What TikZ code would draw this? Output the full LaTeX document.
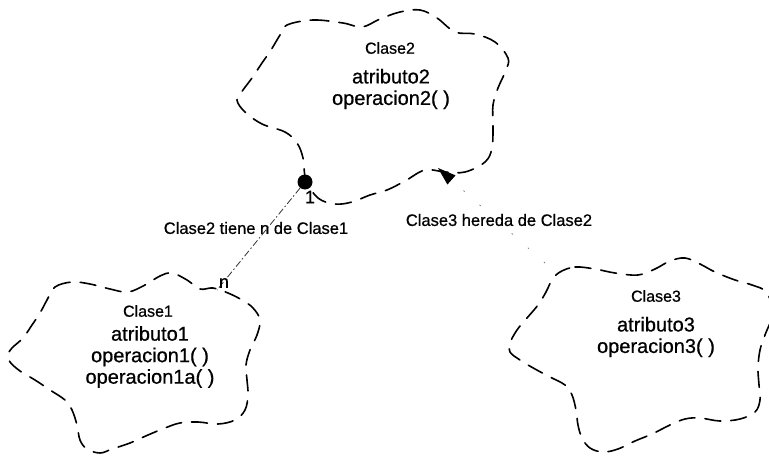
\documentclass[tikz,border=0pt]{standalone}
\usepackage{fontspec}
\setmainfont{Liberation Sans}[FakeBold=0.7]
\usetikzlibrary{arrows.meta,positioning}

\begin{document}
\begin{tikzpicture}[x=1pt, y=-1pt,
  cloud/.style={line width=1.6pt, dash pattern=on 16pt off 10pt, line cap=round},
  clsname/.style={font=\fontsize{16}{18}\selectfont, inner sep=0pt},
  clsbody/.style={font=\fontsize{20}{21.5}\selectfont, align=center, inner sep=0pt},
  mult/.style={font=\fontsize{18}{18}\selectfont, inner sep=0pt},
  lbl/.style={font=\fontsize{16.5}{18}\selectfont, inner sep=0pt},
  hasdot/.style={circle, fill, inner sep=0pt, minimum size=15pt},
  has/.style={line width=.8pt, black!80, dash pattern=on 7pt off 2.5pt on 1.5pt off 2.5pt},
  inh/.style={line width=.8pt, gray, dash pattern=on 1.5pt off 20pt,
    -{Triangle[length=18pt,width=12pt,color=black]}}]
\useasboundingbox (0,0) rectangle (769,458);
%% Clase2
\draw[cloud] plot[smooth cycle, tension=.6] coordinates {
  (287,25) (313,20) (343,23) (362,27) (380,19) (400,12) (420,10) (437,18)
  (455,32) (475,34) (495,42) (508,58) (506,70) (498,88) (493,105) (493,125)
  (492,148) (485,162) (465,172) (445,172) (425,170) (405,181) (387,190)
  (370,195) (352,202) (335,204) (318,198) (306,180) (303,158) (297,143)
  (285,132) (262,124) (245,112) (237,100) (243,90) (252,78) (262,63)
  (271,50) (280,35)};
\node[clsname] (c2name) at (390,48) {Clase2};
\node[clsbody] (c2body) at (391,89) {atributo2\\operacion2( )};
%% Clase1
\draw[cloud] plot[smooth cycle, tension=.6] coordinates {
  (47,300) (55,287) (72,282) (90,284) (110,289) (128,292) (145,285)
  (160,276) (172,273) (187,280) (200,289) (213,288) (228,293) (242,300)
  (253,308) (260,320) (257,335) (250,350) (246,365) (247,380) (248,395)
  (245,410) (235,420) (218,424) (198,422) (180,423) (165,428) (148,435)
  (130,443) (112,449) (100,453) (87,449) (80,440) (77,425) (72,410)
  (65,400) (50,390) (35,380) (20,371) (10,362) (8,355) (12,348) (23,338)
  (32,325) (40,313)};
\node[clsname] (c1name) at (148,311) {Clase1};
\node[clsbody] (c1body) at (150,357) {atributo1\\operacion1( )\\operacion1a( )};
%% Clase3
\draw[cloud] plot[smooth cycle, tension=.6] coordinates {
  (560,272) (575,267) (595,269) (615,273) (638,275) (655,269) (670,261)
  (685,258) (700,264) (715,272) (735,280) (752,285) (766,292) (773,312)
  (765,335) (760,350) (758,368) (759,385) (760,400) (755,412) (740,419)
  (720,421) (700,418) (685,419) (670,425) (652,434) (635,441) (618,449)
  (603,452) (590,448) (582,438) (578,425) (576,410) (572,395) (565,385)
  (550,377) (535,369) (520,360) (510,352) (510,343) (517,330) (527,318)
  (538,305) (546,292) (552,280)};
\node[clsname] (c3name) at (656,296) {Clase3};
\node[clsbody] (c3body) at (656,337) {atributo3\\operacion3( )};
%% Clase2 tiene n de Clase1
\node[hasdot] (dot2) at (305,182) {};
\coordinate (c1has) at (217,290);
\draw[has] (dot2) -- (c1has);
\node[mult] (one) at (310,197) {1};
\node[mult] (many) at (224,283) {n};
\node[lbl] (haslbl) at (256,228) {Clase2 tiene n de Clase1};
%% Clase3 hereda de Clase2
\coordinate (c3inh) at (545,263);
\coordinate (c2inh) at (438,168);
\draw[inh] (c3inh) -- (c2inh);
\node[lbl] (inhlbl) at (499,220) {Clase3 hereda de Clase2};
\end{tikzpicture}
\end{document}
